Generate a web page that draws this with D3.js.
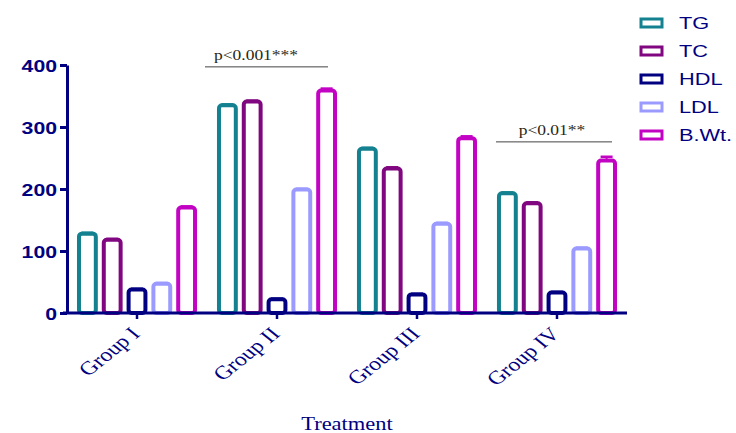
<!DOCTYPE html>
<html lang="en">
<head>
<meta charset="utf-8">
<title>Lipid profile and body weight by treatment group</title>
<script src="https://d3js.org/d3.v7.min.js"></script>
<style>
    body { margin: 0; background: #fff; }
    svg { display: block; }
    .tick-label { font-family: 'Liberation Sans', Arial, sans-serif; font-weight: bold; font-size: 17px; fill: #000080; }
    .group-label { font-family: 'Liberation Serif', 'Times New Roman', serif; font-size: 19px; fill: #000080; }
    .legend-text { font-family: 'Liberation Sans', Arial, sans-serif; font-size: 17px; fill: #000080; }
    .axis-title { font-family: 'Liberation Serif', 'Times New Roman', serif; font-size: 18px; fill: #000080; }
    .sig-text { font-family: 'Liberation Serif', 'Times New Roman', serif; font-size: 14px; fill: #2a1f14; }
</style>
</head>
<body>
<div id="chart"></div>
<script>
// data
const groups = ["Group I", "Group II", "Group III", "Group IV"];
const seriesKeys = ["TG", "TC", "HDL", "LDL", "B.Wt."];
const seriesColors = ["#13818f", "#80077f", "#000080", "#9b9bff", "#c303c3"];
const tgValues   = [128, 335, 265, 193];
const tcValues   = [118, 341, 233, 177];
const hdlValues  = [38, 22, 30, 33];
const ldlValues  = [47, 199, 144, 104];
const bwtValues  = [170, 359, 282, 246];
const tgErr  = [1.5, 1.5, 1.5, 1.5];
const tcErr  = [1.5, 1.5, 2, 1.5];
const hdlErr = [1, 1, 1, 1];
const ldlErr = [1.5, 1.5, 1.5, 1.5];
const bwtErr = [2, 3, 3, 6];
const yTicks = [0, 100, 200, 300, 400];
const sigLabels = ["p<0.001***", "p<0.01**"];
const sigGroups = ["Group II", "Group IV"];
const sigLevels = [397, 276];

const values = [tgValues, tcValues, hdlValues, ldlValues, bwtValues];
const errors = [tgErr, tcErr, hdlErr, ldlErr, bwtErr];

const W = 736, H = 433;
const SX = 1.25;   // the source figure is stretched sideways
const plot = {left: 67, right: 627, top: 65, bottom: 313};

const svg = d3.select("#chart").append("svg")
    .attr("width", W)
    .attr("height", H);

const x0 = d3.scaleBand()
    .domain(groups)
    .range([plot.left, plot.right])
    .paddingInner(0.107)
    .paddingOuter(0.0536);

const x1 = d3.scaleBand()
    .domain(seriesKeys)
    .range([0, x0.bandwidth()])
    .paddingInner(0.16)
    .paddingOuter(0.1);

const y = d3.scaleLinear()
    .domain([0, 400])
    .range([plot.bottom, plot.top]);

const color = d3.scaleOrdinal().domain(seriesKeys).range(seriesColors);

const rows = [];
groups.forEach((g, gi) => {
    seriesKeys.forEach((k, si) => {
        rows.push({group: g, key: k, value: values[si][gi], err: errors[si][gi]});
    });
});

const sw = 4;
const mid = d => x0(d.group) + x1(d.key) + x1.bandwidth() / 2;

// error caps
const errG = svg.append("g");
errG.selectAll("line.err")
    .data(rows)
    .enter()
    .append("line")
    .attr("class", "err")
    .attr("x1", mid)
    .attr("x2", mid)
    .attr("y1", d => y(d.value))
    .attr("y2", d => y(d.value + d.err))
    .attr("stroke", d => color(d.key))
    .attr("stroke-width", 2);
errG.selectAll("line.cap")
    .data(rows)
    .enter()
    .append("line")
    .attr("class", "cap")
    .attr("x1", d => mid(d) - 6)
    .attr("x2", d => mid(d) + 6)
    .attr("y1", d => y(d.value + d.err))
    .attr("y2", d => y(d.value + d.err))
    .attr("stroke", d => color(d.key))
    .attr("stroke-width", 2.5);

// hollow bars, outline centred on the value
svg.append("g").selectAll("rect")
    .data(rows)
    .enter()
    .append("rect")
    .attr("x", d => x0(d.group) + x1(d.key) + sw / 2)
    .attr("y", d => y(d.value))
    .attr("width", x1.bandwidth() - sw)
    .attr("height", d => y(0) - y(d.value))
    .attr("rx", 3)
    .attr("fill", "#fff")
    .attr("stroke", d => color(d.key))
    .attr("stroke-width", sw);

// y axis
const yAxis = svg.append("g")
    .attr("transform", `translate(${plot.left},0)`)
    .call(d3.axisLeft(y).tickValues(yTicks).tickSize(7).tickSizeOuter(0));
yAxis.select(".domain").attr("stroke", "#000080").attr("stroke-width", 3);
yAxis.selectAll(".tick line").attr("stroke", "#000080").attr("stroke-width", 3);
yAxis.selectAll(".tick text")
    .attr("class", "tick-label")
    .attr("x", -8)
    .attr("dy", "0.36em")
    .attr("transform", `scale(${SX},1)`)
    .attr("font-size", null)
    .attr("font-family", null)
    .attr("fill", null);

// x axis
const xAxis = svg.append("g")
    .attr("transform", `translate(0,${plot.bottom})`)
    .call(d3.axisBottom(x0).tickSize(6).tickSizeOuter(0));
xAxis.select(".domain").remove();
xAxis.append("line")
    .attr("x1", plot.left - 4)
    .attr("x2", plot.right)
    .attr("stroke", "#000080")
    .attr("stroke-width", 3);
xAxis.selectAll(".tick line").attr("stroke", "#000080").attr("stroke-width", 2.5);
xAxis.selectAll(".tick text")
    .attr("class", "group-label")
    .attr("x", 0)
    .attr("y", 0)
    .attr("dy", 0)
    .attr("text-anchor", "end")
    .attr("transform", `translate(4,22) scale(${SX},1) rotate(-45)`)
    .attr("font-size", null)
    .attr("font-family", null)
    .attr("fill", null);

svg.append("text")
    .attr("class", "axis-title")
    .attr("text-anchor", "middle")
    .attr("transform", `translate(${(plot.left + plot.right) / 2},430) scale(${SX},1)`)
    .text("Treatment");

// significance brackets
const sigOffsets = [[-72, 51, -21], [-61, 55, -5]];
sigLabels.forEach((lab, i) => {
    const cx = x0(sigGroups[i]) + x0.bandwidth() / 2;
    const ly = y(sigLevels[i]);
    svg.append("line")
        .attr("x1", cx + sigOffsets[i][0])
        .attr("x2", cx + sigOffsets[i][1])
        .attr("y1", ly)
        .attr("y2", ly)
        .attr("stroke", "#444")
        .attr("stroke-width", 1);
    svg.append("text")
        .attr("class", "sig-text")
        .attr("text-anchor", "middle")
        .attr("transform", `translate(${cx + sigOffsets[i][2]},${ly - 7}) scale(${SX},1)`)
        .text(lab);
});

// legend
const legend = svg.append("g").attr("transform", "translate(641,23)");
const items = legend.selectAll("g")
    .data(seriesKeys)
    .enter()
    .append("g")
    .attr("transform", (d, i) => `translate(0,${i * 28})`);
items.append("rect")
    .attr("x", 0)
    .attr("y", -4)
    .attr("width", 21)
    .attr("height", 8)
    .attr("fill", "#fff")
    .attr("stroke", d => color(d))
    .attr("stroke-width", 3);
items.append("text")
    .attr("class", "legend-text")
    .attr("transform", `translate(38,0) scale(1.28,1)`)
    .attr("dy", "0.36em")
    .text(d => d);
</script>
</body>
</html>
